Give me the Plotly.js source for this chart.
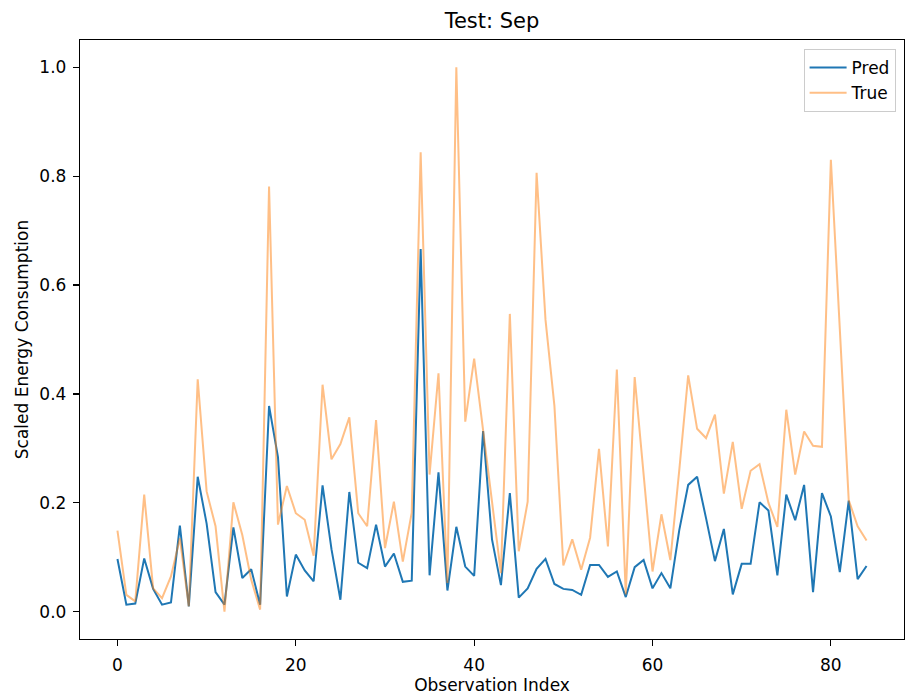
<!DOCTYPE html>
<html>
<head>
<meta charset="utf-8">
<script src="https://cdn.plot.ly/plotly-3.0.1.min.js"></script>
<style>html,body{margin:0;padding:0;background:#fff;}#chart{width:912px;height:697px;}</style>
</head>
<body>
<div id="chart"></div>
<script>
const obsIndex = Array.from({length: 85}, (_, i) => i);

const predValues = [
  0.097, 0.013, 0.015, 0.098, 0.042, 0.013, 0.017, 0.158, 0.010, 0.248,
  0.162, 0.036, 0.013, 0.155, 0.062, 0.078, 0.013, 0.378, 0.284, 0.028,
  0.105, 0.076, 0.056, 0.232, 0.115, 0.022, 0.220, 0.090, 0.080, 0.160,
  0.083, 0.107, 0.055, 0.057, 0.666, 0.067, 0.256, 0.039, 0.156, 0.083,
  0.066, 0.332, 0.133, 0.049, 0.218, 0.026, 0.043, 0.079, 0.097, 0.051,
  0.042, 0.040, 0.031, 0.086, 0.086, 0.064, 0.074, 0.027, 0.082, 0.095,
  0.043, 0.071, 0.043, 0.150, 0.233, 0.248, 0.172, 0.093, 0.152, 0.032,
  0.088, 0.088, 0.201, 0.186, 0.067, 0.215, 0.168, 0.233, 0.036, 0.218,
  0.175, 0.073, 0.204, 0.060, 0.084
];

const trueValues = [
  0.149, 0.031, 0.019, 0.215, 0.043, 0.025, 0.065, 0.135, 0.010, 0.427,
  0.221, 0.157, 0.000, 0.201, 0.141, 0.059, 0.004, 0.781, 0.160, 0.231,
  0.181, 0.169, 0.103, 0.417, 0.280, 0.308, 0.357, 0.181, 0.157, 0.352,
  0.117, 0.202, 0.092, 0.182, 0.844, 0.252, 0.438, 0.053, 1.000, 0.349,
  0.465, 0.334, 0.210, 0.071, 0.547, 0.111, 0.202, 0.806, 0.536, 0.378,
  0.085, 0.133, 0.077, 0.136, 0.299, 0.120, 0.445, 0.032, 0.431, 0.250,
  0.074, 0.179, 0.095, 0.260, 0.434, 0.336, 0.319, 0.362, 0.217, 0.312,
  0.189, 0.259, 0.271, 0.200, 0.156, 0.371, 0.252, 0.331, 0.305, 0.303,
  0.830, 0.520, 0.205, 0.157, 0.131
];

const xTicks = [0, 20, 40, 60, 80];
const yTicks = [0.0, 0.2, 0.4, 0.6, 0.8, 1.0];

const FONT = "DejaVu Sans, sans-serif";
const FS = 17;

const traces = [
  {x: obsIndex, y: predValues, name: "Pred", type: "scatter", mode: "lines",
   line: {color: "#1f77b4", width: 2}},
  {x: obsIndex, y: trueValues, name: "True", type: "scatter", mode: "lines",
   line: {color: "rgba(255,127,14,0.5)", width: 2}}
];

const axisCommon = {
  showgrid: false, zeroline: false, showline: true, mirror: true,
  linecolor: "#000", linewidth: 1.2, ticks: "outside", ticklen: 6, tickwidth: 1.2,
  tickcolor: "#000", tickfont: {family: FONT, size: FS, color: "#000"}
};

const layout = {
  width: 912, height: 697,
  margin: {l: 80, r: 8, t: 40, b: 58},
  paper_bgcolor: "#fff", plot_bgcolor: "#fff",
  font: {family: FONT, color: "#000"},
  title: {text: "Test: Sep", x: 0.5395, xanchor: "center", y: 0.971, yanchor: "middle",
          font: {family: FONT, size: 21, color: "#000"}},
  xaxis: Object.assign({}, axisCommon, {
    range: [-4.2, 88.2], tickvals: xTicks, ticklabelstandoff: 4,
    title: {text: "Observation Index", standoff: 4, font: {family: FONT, size: FS, color: "#000"}}
  }),
  yaxis: Object.assign({}, axisCommon, {
    range: [-0.05, 1.05], tickvals: yTicks, tickformat: ".1f", ticklabelstandoff: 3,
    title: {text: "Scaled Energy Consumption", standoff: 6, font: {family: FONT, size: FS, color: "#000"}}
  }),
  showlegend: true,
  legend: {x: 0.9898, xanchor: "right", y: 0.985, yanchor: "top",
           bgcolor: "rgba(255,255,255,0.8)", bordercolor: "#cccccc", borderwidth: 1,
           itemwidth: 37,
           font: {family: FONT, size: FS, color: "#000"}, tracegroupgap: 0}
};

Plotly.newPlot("chart", traces, layout, {displayModeBar: false, staticPlot: true});
</script>
</body>
</html>
